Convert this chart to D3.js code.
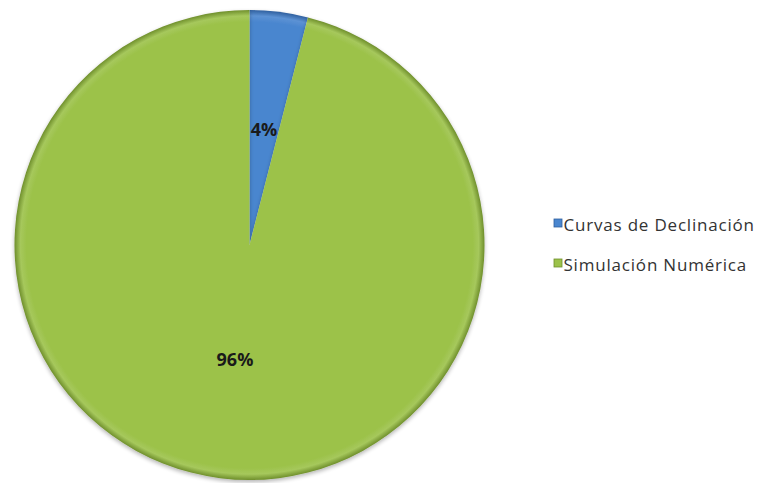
<!DOCTYPE html>
<html>
<head>
<meta charset="utf-8">
<script src="https://cdn.jsdelivr.net/npm/d3@7"></script>
<style>
  html, body { margin: 0; padding: 0; background: #fff; }
  svg { display: block; }
</style>
</head>
<body>
<svg id="chart" width="762" height="483"></svg>
<script>
// Share of methods used
const categories = ["Curvas de Declinación", "Simulación Numérica"];
const values = [4, 96];
const labels = ["4%", "96%"];
const colors = ["#4a86cf", "#9cc24a"];
const rimColors = ["#2f5f9e", "#6f8f2c"];

const svg = d3.select("#chart");
const cx = 249.5, cy = 245, radius = 235;

const defs = svg.append("defs");

// Radial shading centred on the pie: flat face with a bevel toward the rim
categories.forEach((c, i) => {
  const g = defs.append("radialGradient")
    .attr("id", "grad" + i)
    .attr("gradientUnits", "userSpaceOnUse")
    .attr("cx", 0).attr("cy", 0).attr("r", radius);
  g.append("stop").attr("offset", "0%").attr("stop-color", colors[i]);
  g.append("stop").attr("offset", "95%").attr("stop-color", colors[i]);
  g.append("stop").attr("offset", "97.5%").attr("stop-color", d3.interpolateRgb(colors[i], "#ffffff")(0.1));
  g.append("stop").attr("offset", "100%").attr("stop-color", rimColors[i]);
});

const shadow = defs.append("filter").attr("id", "shadow")
  .attr("x", "-10%").attr("y", "-10%").attr("width", "120%").attr("height", "120%");
shadow.append("feGaussianBlur").attr("in", "SourceAlpha").attr("stdDeviation", 2);
shadow.append("feOffset").attr("dx", 0).attr("dy", 1.5);
shadow.append("feComponentTransfer").append("feFuncA").attr("type", "linear").attr("slope", 0.3);
const merge = shadow.append("feMerge");
merge.append("feMergeNode");
merge.append("feMergeNode").attr("in", "SourceGraphic");

const pie = d3.pie().sort(null).value(d => d)(values);
const arc = d3.arc().innerRadius(0).outerRadius(radius);
const labelArc = d3.arc().innerRadius(radius * 0.494).outerRadius(radius * 0.494);

const gPie = svg.append("g").attr("transform", `translate(${cx},${cy})`);

gPie.selectAll("path.slice")
  .data(pie)
  .join("path")
  .attr("class", "slice")
  .attr("d", arc)
  .attr("fill", (d, i) => `url(#grad${i})`)
  .attr("filter", "url(#shadow)");

gPie.selectAll("text.lbl")
  .data(pie)
  .join("text")
  .attr("class", "lbl")
  .attr("transform", d => `translate(${labelArc.centroid(d)})`)
  .attr("text-anchor", "middle")
  .attr("dy", "0.35em")
  .style("font-family", "'Open Sans', 'DejaVu Sans', sans-serif")
  .style("font-weight", "bold")
  .style("font-size", "18px")
  .attr("fill", "#1a1a1a")
  .text((d, i) => labels[i]);

// Legend
const legend = svg.append("g").attr("transform", "translate(554,219)");
const item = legend.selectAll("g")
  .data(categories)
  .join("g")
  .attr("transform", (d, i) => `translate(0,${i * 40})`);

item.append("rect")
  .attr("width", 8).attr("height", 8)
  .attr("fill", (d, i) => colors[i])
  .attr("stroke", (d, i) => rimColors[i])
  .attr("stroke-width", 0.8);

item.append("text")
  .attr("x", 9.5)
  .attr("y", 11.5)
  .style("font-family", "'Open Sans', 'DejaVu Sans', sans-serif")
  .style("font-size", "17px")
  .style("letter-spacing", "0.8px")
  .attr("fill", "#333")
  .text(d => d);
</script>
</body>
</html>
